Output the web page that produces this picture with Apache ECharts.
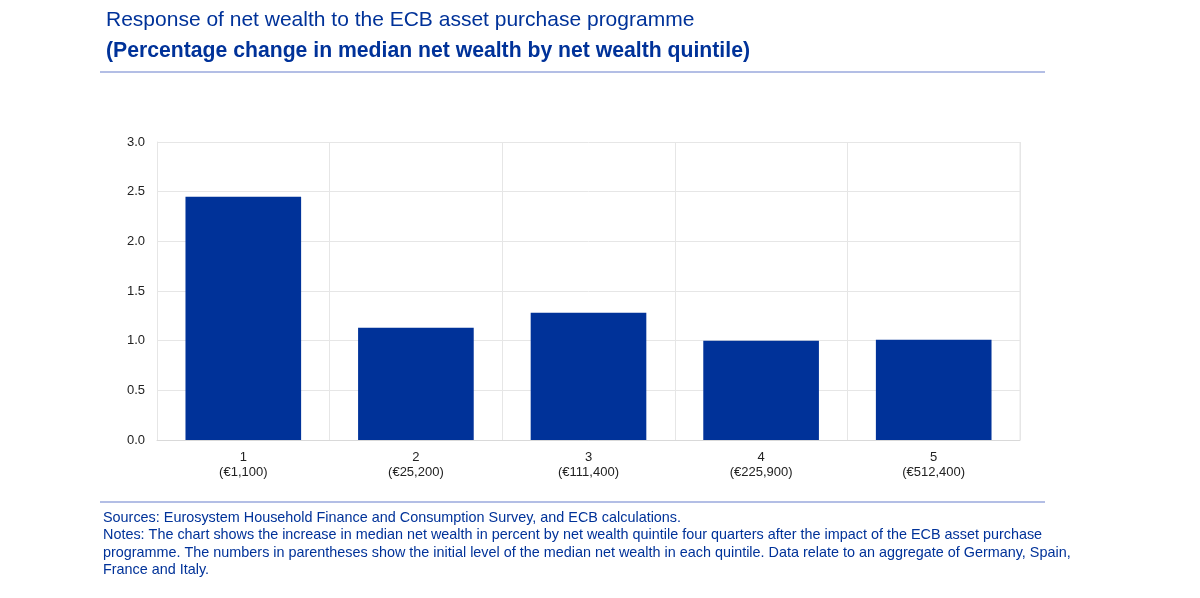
<!DOCTYPE html>
<html><head><meta charset="utf-8">
<script src="https://cdn.jsdelivr.net/npm/echarts@6/dist/echarts.min.js"></script>
<style>html,body{margin:0;padding:0;background:#fff}#c{width:1200px;height:598px}</style>
</head><body><div id="c"></div>
<script>
const categories = ['1\n(€1,100)', '2\n(€25,200)', '3\n(€111,400)', '4\n(€225,900)', '5\n(€512,400)'];
const values = [2.45, 1.13, 1.28, 1.00, 1.01];
const yTicks = { min: 0, max: 3, interval: 0.5 };
const titleText = 'Response of net wealth to the ECB asset purchase programme';
const subtitleText = '(Percentage change in median net wealth by net wealth quintile)';
const notesLines = [
  'Sources: Eurosystem Household Finance and Consumption Survey, and ECB calculations.',
  'Notes: The chart shows the increase in median net wealth in percent by net wealth quintile four quarters after the impact of the ECB asset purchase',
  'programme. The numbers in parentheses show the initial level of the median net wealth in each quintile. Data relate to an aggregate of Germany, Spain,',
  'France and Italy.'
];
const blue = '#003299';
const chart = echarts.init(document.getElementById('c'), null, {renderer: 'canvas'});
const font = '"Liberation Sans", Arial, sans-serif';
chart.setOption({
  animation: false,
  textStyle: {fontFamily: font},
  title: [
    {text: titleText, left: 101, top: 5, textStyle: {color: blue, fontSize: 21, fontWeight: 'normal', fontFamily: font}},
    {text: subtitleText, left: 101, top: 36, textStyle: {color: blue, fontSize: 21.2, fontWeight: 'bold', fontFamily: font}}
  ],
  grid: {left: 157, right: 180, top: 142, bottom: 158, containLabel: false},
  xAxis: {
    type: 'category', data: categories, boundaryGap: true,
    axisLine: {show: true, lineStyle: {color: '#d9d9d9', width: 1}},
    axisTick: {show: false},
    splitLine: {show: true, lineStyle: {color: '#e6e6e6', width: 1}},
    axisLabel: {color: '#222', fontSize: 13, lineHeight: 15, margin: 10, fontFamily: font}
  },
  yAxis: {
    type: 'value', min: yTicks.min, max: yTicks.max, interval: yTicks.interval,
    axisLine: {show: true, lineStyle: {color: '#e6e6e6'}},
    axisTick: {show: false},
    splitLine: {show: true, lineStyle: {color: '#e6e6e6', width: 1}},
    axisLabel: {color: '#222', fontSize: 13, margin: 12, formatter: v => v.toFixed(1), fontFamily: font}
  },
  series: [{
    type: 'bar', data: values, barWidth: '67%',
    itemStyle: {color: blue}
  }],
  graphic: [
    {type: 'line', shape: {x1: 100, y1: 72, x2: 1045, y2: 72}, style: {stroke: '#9aa8dc', lineWidth: 1.5}},
    {type: 'line', shape: {x1: 100, y1: 502, x2: 1045, y2: 502}, style: {stroke: '#9aa8dc', lineWidth: 1.5}},
    {type: 'line', shape: {x1: 1020, y1: 142, x2: 1020, y2: 440}, style: {stroke: '#e6e6e6', lineWidth: 1}},
    ...notesLines.map((t, i) => ({
      type: 'text', left: 103, top: 511 + i * 17.3,
      style: {text: t, fill: blue, font: '14.4px ' + font}
    }))
  ]
});
</script></body></html>
